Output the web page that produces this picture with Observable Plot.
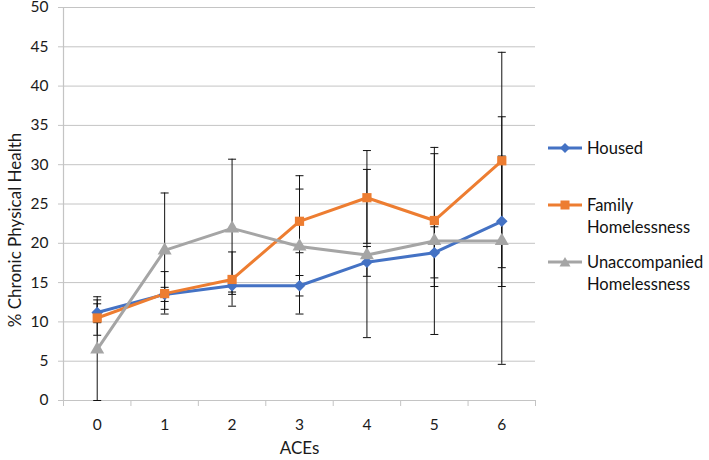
<!DOCTYPE html>
<html>
<head>
<meta charset="utf-8">
<script src="https://cdn.jsdelivr.net/npm/d3@7"></script>
<script src="https://cdn.jsdelivr.net/npm/@observablehq/plot@0.6"></script>
<style>
  body { margin: 0; background: #fff; font-family: Lato, "Open Sans", sans-serif; }
  #wrap { position: relative; width: 709px; height: 460px; }
  .leg { position: absolute; left: 548px; font-size: 16.5px; color: #111; line-height: 22px; }
  .leg svg { position: absolute; left: 0; top: 0; }
  .leg span { position: absolute; left: 39px; top: -11px; white-space: nowrap; }
</style>
</head>
<body>
<div id="wrap"></div>
<script>
const aces = [0, 1, 2, 3, 4, 5, 6];
const seriesNames = ["Housed", "Family Homelessness", "Unaccompanied Homelessness"];
const housed = [11.2, 13.5, 14.6, 14.6, 17.6, 18.8, 22.8];
const family = [10.5, 13.6, 15.4, 22.8, 25.8, 22.9, 30.5];
const unacc = [6.5, 19.1, 21.9, 19.6, 18.5, 20.3, 20.3];
const housedLo = [9.9, 12.6, 13.8, 13.3, 15.8, 15.6, 14.5];
const housedHi = [12.3, 14.4, 15.4, 15.9, 19.6, 22.1, 31.1];
const familyLo = [8.3, 11.0, 12.0, 18.8, 20.0, 14.5, 16.9];
const familyHi = [12.8, 16.4, 18.9, 26.9, 31.8, 31.4, 44.3];
const unaccLo = [0.0, 11.6, 13.5, 11.0, 8.0, 8.4, 4.6];
const unaccHi = [13.2, 26.4, 30.7, 28.6, 29.4, 32.2, 36.1];
const yTicks = [0, 5, 10, 15, 20, 25, 30, 35, 40, 45, 50];
const xBounds = [-0.5, 0.5, 1.5, 2.5, 3.5, 4.5, 5.5, 6.5];
const colors = ["#4472C4", "#ED7D31", "#A5A5A5"];
const symbols = ["diamond2", "square", "triangle"];

const vals = [housed, family, unacc];
const los = [housedLo, familyLo, unaccLo];
const his = [housedHi, familyHi, unaccHi];
const rows = [];
seriesNames.forEach((s, k) => aces.forEach((a, i) => rows.push({
  series: s, ace: a, value: vals[k][i], lo: los[k][i], hi: his[k][i]
})));
const capSymbol = { draw(ctx) { ctx.moveTo(-4, 0); ctx.lineTo(4, 0); } };

const gridC = "#c4c4c4";
const chart = Plot.plot({
  width: 709,
  height: 460,
  marginLeft: 63,
  marginRight: 174,
  marginTop: 7,
  marginBottom: 60,
  style: { fontFamily: "Lato, 'Open Sans', sans-serif", background: "#fff" },
  x: { domain: [-0.5, 6.5] },
  y: { domain: [0, 50] },
  color: { domain: seriesNames, range: colors },
  symbol: { domain: seriesNames, range: symbols },
  marks: [
    Plot.ruleY(yTicks, { stroke: gridC, strokeWidth: 1 }),
    Plot.ruleX([-0.5], { stroke: gridC, strokeWidth: 1.2 }),
    Plot.axisY({ ticks: yTicks, tickSize: 5, tickPadding: 10, fontSize: 15.5, stroke: gridC, fill: "#1a1a1a", label: null }),
    Plot.axisX({ ticks: xBounds, tickSize: 6, tickFormat: () => "", stroke: gridC, label: null }),
    Plot.axisX({ ticks: aces, tickSize: 0, tickPadding: 18, tickFormat: d3.format("d"), fontSize: 15.5, fill: "#1a1a1a", label: null }),
    Plot.text(["ACEs"], { frameAnchor: "bottom", dy: 53, fontSize: 17, fill: "#1a1a1a" }),
    Plot.text(["% Chronic Physical Health"], { frameAnchor: "left", textAnchor: "middle", rotate: -90, dx: -48, dy: 26, fontSize: 17, fill: "#1a1a1a" }),
    Plot.ruleX(rows, { x: "ace", y1: "lo", y2: "hi", stroke: "#111", strokeWidth: 1 }),
    Plot.dot(rows, { x: "ace", y: "lo", symbol: () => capSymbol, stroke: "#111", fill: "none", strokeWidth: 1 }),
    Plot.dot(rows, { x: "ace", y: "hi", symbol: () => capSymbol, stroke: "#111", fill: "none", strokeWidth: 1 }),
    Plot.line(rows, { x: "ace", y: "value", z: "series", stroke: "series", strokeWidth: 3 }),
    Plot.dot(rows, { x: "ace", y: "value", symbol: "series", fill: "series", stroke: "none", r: 5.2 })
  ]
});
document.getElementById("wrap").appendChild(chart);

// legend
const legendItems = [
  { name: "Housed", lines: ["Housed"], y: 148, shape: "diamond" },
  { name: "Family Homelessness", lines: ["Family", "Homelessness"], y: 205, shape: "square" },
  { name: "Unaccompanied Homelessness", lines: ["Unaccompanied", "Homelessness"], y: 262, shape: "triangle" }
];
const wrap = document.getElementById("wrap");
legendItems.forEach((it, k) => {
  const div = document.createElement("div");
  div.className = "leg";
  div.style.top = it.y + "px";
  const c = colors[k];
  let shape = "";
  if (it.shape === "diamond") shape = `<path d="M17,-5 L22,0 L17,5 L12,0 Z" fill="${c}"/>`;
  else if (it.shape === "square") shape = `<rect x="12.5" y="-4.5" width="9" height="9" fill="${c}"/>`;
  else shape = `<path d="M17,-5 L22.5,4.5 L11.5,4.5 Z" fill="${c}"/>`;
  div.innerHTML = `<svg width="36" height="14" viewBox="0 -7 36 14" style="top:-7px;overflow:visible"><line x1="0" x2="34" y1="0" y2="0" stroke="${c}" stroke-width="3"/>${shape}</svg>` +
    `<span>${it.lines.join("<br>")}</span>`;
  wrap.appendChild(div);
});
</script>
</body>
</html>
